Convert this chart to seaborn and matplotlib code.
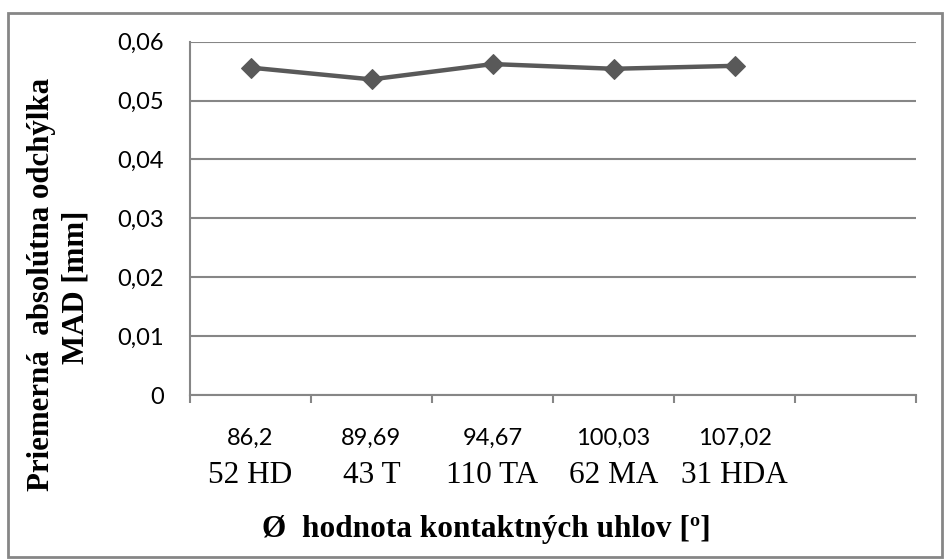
import numpy as np
import pandas as pd
import matplotlib
matplotlib.use("Agg")
import matplotlib.pyplot as plt
import matplotlib.transforms as mtransforms
from matplotlib.patches import Rectangle
from matplotlib.ticker import FixedLocator, FuncFormatter
import seaborn as sns

# Mean contact angle per sample and the corresponding sample names
angle_labels = ["86,2", "89,69", "94,67", "100,03", "107,02"]
sample_labels = ["52 HD", "43 T", "110 TA", "62 MA", "31 HDA"]
# Mean absolute deviation (MAD) in mm
mad_values = [0.0556, 0.0536, 0.0562, 0.0554, 0.0559]

y_ticks = [0.0, 0.01, 0.02, 0.03, 0.04, 0.05, 0.06]

GRID = "#868686"
LINE = "#595959"

sns.set_theme(style="white")
plt.rcParams["font.family"] = ["Lato", "DejaVu Sans"]

W, H = 944, 559
fig = plt.figure(figsize=(W / 100, H / 100), dpi=100)
ax = fig.add_axes([190 / W, 1 - 395 / H, (916 - 190) / W, (395 - 41.7) / H])

df = pd.DataFrame({"pos": np.arange(len(mad_values)), "mad": mad_values})
sns.lineplot(data=df, x="pos", y="mad", ax=ax, color=LINE, linewidth=3.2,
             marker="D", markersize=10.5, markeredgecolor=LINE,
             markerfacecolor=LINE, zorder=3)

# six category slots, last one empty
ax.set_xlim(-0.5, 5.5)
ax.set_ylim(0, 0.06)
ax.set_xlabel("")
ax.set_ylabel("")

ax.yaxis.set_major_locator(FixedLocator(y_ticks))
ax.yaxis.set_major_formatter(FuncFormatter(
    lambda v, p: "0" if abs(v) < 1e-12 else f"{v:.2f}".replace(".", ",")))
ax.grid(axis="y", color=GRID, linewidth=1.5)
ax.grid(axis="x", visible=False)

ax.xaxis.set_major_locator(FixedLocator(np.arange(-0.5, 6.0, 1.0)))
ax.xaxis.set_major_formatter(FuncFormatter(lambda v, p: ""))

for side in ["top", "right"]:
    ax.spines[side].set_visible(False)
for side in ["left", "bottom"]:
    ax.spines[side].set_color(GRID)
    ax.spines[side].set_linewidth(1.5)

ax.tick_params(axis="y", which="major", direction="out", length=5.8,
               width=1.5, color=GRID, pad=13, labelsize=17, labelcolor="black")
ax.tick_params(axis="x", which="major", direction="out", length=5.5,
               width=1.5, color=GRID, bottom=True)

# two-line category labels: angle (sans) over sample name (serif)
trans = mtransforms.blended_transform_factory(ax.transData, fig.transFigure)
for i, (a, s) in enumerate(zip(angle_labels, sample_labels)):
    ax.text(i, 1 - 445 / H, a, transform=trans, ha="center", va="baseline",
            fontsize=17, family=["Lato", "DejaVu Sans"], color="black")
    ax.text(i, 1 - 483 / H, s, transform=trans, ha="center", va="baseline",
            fontsize=22.5, family=["Liberation Serif", "DejaVu Serif"], color="black")

fig.text(486 / W, 1 - 537 / H, "Ø  hodnota kontaktných uhlov [º]",
         ha="center", va="baseline", fontsize=22.5, fontweight="bold",
         family=["Liberation Serif", "DejaVu Serif"], color="black")

fig.text(49 / W, 1 - 284.5 / H, "Priemerná  absolútna odchýlka",
         rotation=90, rotation_mode="anchor", ha="center", va="baseline",
         fontsize=22.2, fontweight="bold",
         family=["Liberation Serif", "DejaVu Serif"], color="black")
fig.text(84 / W, 1 - 287 / H, "MAD [mm]",
         rotation=90, rotation_mode="anchor", ha="center", va="baseline",
         fontsize=22.2, fontweight="bold",
         family=["Liberation Serif", "DejaVu Serif"], color="black")

# chart border
fig.patches.append(Rectangle((8 / W, 1 - 557 / H), (942 - 8) / W, (557 - 13) / H,
                             transform=fig.transFigure, fill=False,
                             edgecolor=GRID, linewidth=2.0))

fig.savefig("out.png", dpi=100)
